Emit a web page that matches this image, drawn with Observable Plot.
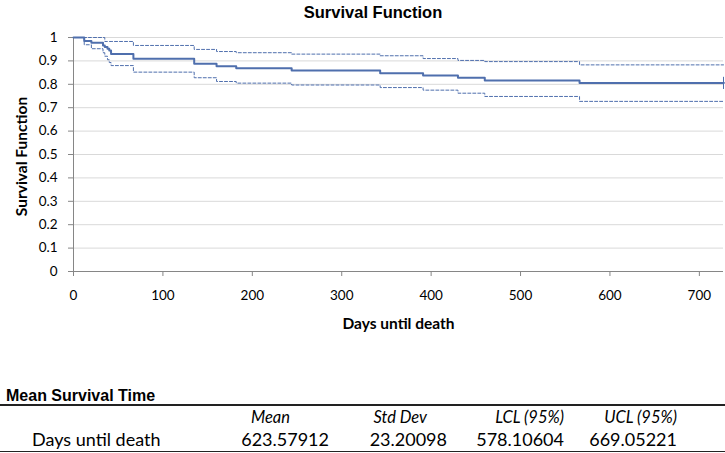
<!DOCTYPE html>
<html>
<head>
<meta charset="utf-8">
<script src="https://cdn.jsdelivr.net/npm/d3@7"></script>
<script src="https://cdn.jsdelivr.net/npm/@observablehq/plot@0.6"></script>
<style>
  body { margin: 0; background: #fff; }
  #wrap { position: relative; width: 725px; height: 453px; overflow: hidden; font-family: Lato, sans-serif; color: #000; }
  .abs { position: absolute; white-space: nowrap; line-height: 1; }
  #title { left: 0; width: 746px; text-align: center; top: 3px; font: bold 16.5px "Liberation Sans", Arial, sans-serif; }
  #chart { position: absolute; left: 0; top: 24px; }
  .rule { position: absolute; left: 0; width: 725px; background: #222; }
  .th { font-style: italic; font-size: 16.5px; top: 408.5px; text-align: right; }
  .td { font-size: 18px; top: 430px; text-align: right; }
  #chart [aria-label$="-axis"] .tick line,
  #chart [aria-label$="-axis"] .tick path,
  #chart [aria-label$="tick"] path { stroke: #868686; }
</style>
</head>
<body>
<div id="wrap">
  <div id="title" class="abs">Survival Function</div>
  <div id="chart"></div>
  <div id="tbl"></div>
</div>
<script>
// Kaplan–Meier estimate (step function) and 95% confidence band
const days     = [0, 12, 20, 33, 35, 38, 40, 42, 67, 135, 160, 182, 244, 343, 391, 430, 460, 566, 727];
const survival = [1, 0.985, 0.978, 0.966, 0.959, 0.952, 0.944, 0.930, 0.909, 0.888, 0.877, 0.869, 0.859, 0.847, 0.838, 0.828, 0.816, 0.806, 0.806];
const upperCI  = [1, 1, 1, 1, 0.983, 0.983, 0.983, 0.983, 0.966, 0.949, 0.940, 0.935, 0.929, 0.922, 0.910, 0.902, 0.897, 0.883, 0.883];
const lowerCI  = [1, 0.969, 0.952, 0.935, 0.920, 0.905, 0.893, 0.880, 0.852, 0.828, 0.812, 0.805, 0.797, 0.786, 0.775, 0.762, 0.748, 0.727, 0.727];
const censoredDay = [727];
const censoredSurv = [0.806];

const xTicks = [0, 100, 200, 300, 400, 500, 600, 700];
const yTicks = [0, 0.1, 0.2, 0.3, 0.4, 0.5, 0.6, 0.7, 0.8, 0.9, 1];

// Summary table
const tableTitle = "Mean Survival Time";
const tableHeaders = ["Mean", "Std Dev", "LCL (95%)", "UCL (95%)"];
const rowLabel = "Days until death";
const rowValues = ["623.57912", "23.20098", "578.10604", "669.05221"];

const km = days.map((d, i) => ({day: d, s: survival[i], hi: upperCI[i], lo: lowerCI[i]}));
const cens = censoredDay.map((d, i) => ({day: d, s: censoredSurv[i]}));

const blue = "#4f6fad";
const plot = Plot.plot({
  width: 725,
  height: 320,
  marginLeft: 73,
  marginRight: 2,
  marginTop: 13,
  marginBottom: 73,
  style: {fontFamily: "Lato, sans-serif", fontSize: "13.5px", color: "#000", background: "#fff"},
  x: {domain: [0, 727], ticks: xTicks, tickSize: 5, tickPadding: 14, label: null, tickFormat: d => String(d)},
  y: {domain: [0, 1], ticks: yTicks, tickSize: 5, tickPadding: 11, label: null, tickFormat: d => String(+d.toFixed(1))},
  marks: [
    Plot.ruleY(yTicks.filter(v => v > 0), {stroke: "#d9d9d9", strokeWidth: 1}),
    Plot.ruleX([0], {stroke: "#868686"}),
    Plot.ruleY([0], {stroke: "#868686"}),
    Plot.line(km, {x: "day", y: "hi", curve: "step-after", stroke: blue, strokeWidth: 1, strokeDasharray: "3,2"}),
    Plot.line(km, {x: "day", y: "lo", curve: "step-after", stroke: blue, strokeWidth: 1, strokeDasharray: "3,2"}),
    Plot.line(km, {x: "day", y: "s", curve: "step-after", stroke: blue, strokeWidth: 2}),
    Plot.dot(cens, {x: "day", y: "s", symbol: "plus", r: 4, stroke: blue, strokeWidth: 1}),
    Plot.text(["Days until death"], {frameAnchor: "bottom", dy: 57, text: d => d, fontWeight: "bold", fontSize: 15.5}),
    Plot.text(["Survival Function"], {frameAnchor: "left", textAnchor: "middle", dx: -51, dy: 2, rotate: -90, text: d => d, fontWeight: "bold", fontSize: 15.5})
  ]
});
document.getElementById("chart").appendChild(plot);

// Table (HTML text)
const tbl = document.getElementById("tbl");
function add(html, cls, style) {
  const el = document.createElement("div");
  el.className = "abs " + cls;
  el.textContent = html;
  Object.assign(el.style, style);
  tbl.appendChild(el);
}
add(tableTitle, "", {left: "6px", top: "386.5px", font: 'bold 16px "Liberation Sans", Arial, sans-serif'});
const headerRight = [290, 427, 564, 677];
const valueRight = [329, 447, 564, 677];
tableHeaders.forEach((h, i) => add(h, "th", {right: (725 - headerRight[i]) + "px"}));
add(rowLabel, "td", {left: "32px", textAlign: "left"});
rowValues.forEach((v, i) => add(v, "td", {right: (725 - valueRight[i]) + "px"}));
const r1 = document.createElement("div"); r1.className = "rule"; r1.style.top = "404px"; r1.style.height = "1.5px"; tbl.appendChild(r1);
const r2 = document.createElement("div"); r2.className = "rule"; r2.style.top = "450.5px"; r2.style.height = "1.5px"; tbl.appendChild(r2);
</script>
</body>
</html>
